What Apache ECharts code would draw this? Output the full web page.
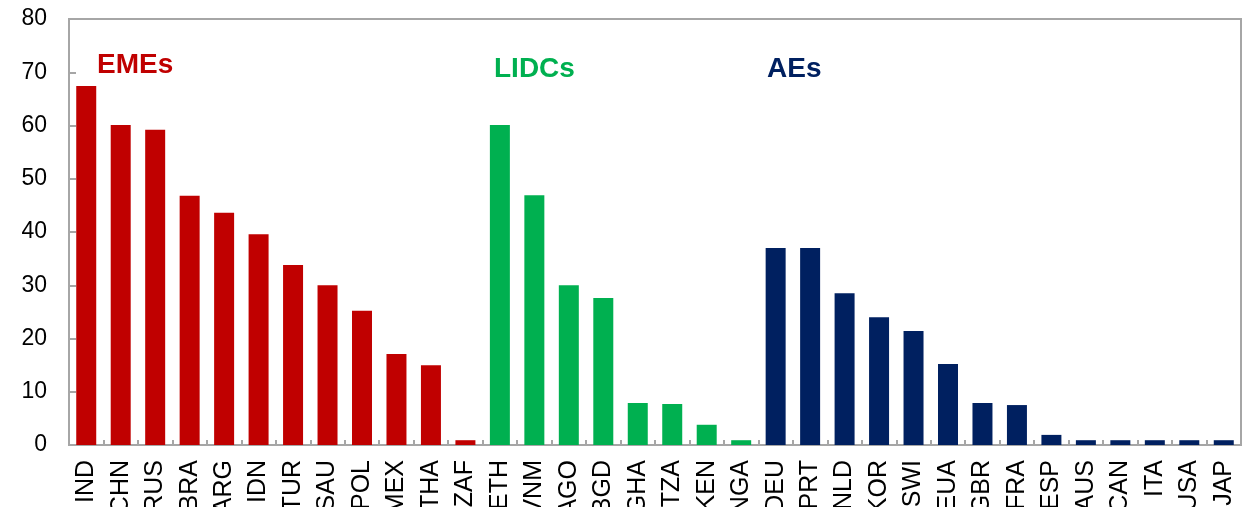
<!DOCTYPE html>
<html>
<head>
<meta charset="utf-8">
<script src="https://cdn.jsdelivr.net/npm/echarts@6/dist/echarts.min.js"></script>
<style>
html,body{margin:0;padding:0;background:#fff;}
#chart{width:1255px;height:507px;}
</style>
</head>
<body>
<div id="chart"></div>
<script>
const categories = ['IND','CHN','RUS','BRA','ARG','IDN','TUR','SAU','POL','MEX','THA','ZAF',
  'ETH','VNM','AGO','BGD','GHA','TZA','KEN','NGA',
  'DEU','PRT','NLD','KOR','SWI','EUA','GBR','FRA','ESP','AUS','CAN','ITA','USA','JAP'];
const values = [67.4,60.1,59.2,46.8,43.6,39.6,33.8,30.0,25.2,17.1,15.0,0.9,
  60.1,46.9,30.0,27.6,7.9,7.7,3.8,0.9,
  37.0,37.0,28.5,24.0,21.4,15.2,7.9,7.5,1.9,0.9,0.9,0.9,0.9,0.9];
const groups = ['EME','EME','EME','EME','EME','EME','EME','EME','EME','EME','EME','EME',
  'LIDC','LIDC','LIDC','LIDC','LIDC','LIDC','LIDC','LIDC',
  'AE','AE','AE','AE','AE','AE','AE','AE','AE','AE','AE','AE','AE','AE'];
const groupColors = {EME:'#C00000', LIDC:'#00B050', AE:'#002060'};
const groupLabels = [
  {text:'EMEs', key:'EME', left:97, top:51},
  {text:'LIDCs', key:'LIDC', left:494, top:55},
  {text:'AEs', key:'AE', left:767, top:55}
];
const yTicks = {min:0, max:80, interval:10};

const chart = echarts.init(document.getElementById('chart'), null, {renderer:'canvas'});
const axisGrey = '#a6a6a6';
const font = '"Liberation Sans", Arial, sans-serif';
chart.setOption({
  animation:false,
  grid:{left:69, right:14, top:19, bottom:62, outerBoundsMode:'none', containLabel:false,
        show:true, borderColor:axisGrey, borderWidth:2, backgroundColor:'transparent'},
  xAxis:{
    type:'category', data:categories,
    axisLine:{show:true, lineStyle:{color:axisGrey, width:2}},
    axisTick:{show:true, inside:true, length:5, lineStyle:{color:axisGrey, width:2}},
    axisLabel:{rotate:90, margin:15, color:'#000', fontFamily:font, fontSize:25, interval:0, hideOverlap:false}
  },
  yAxis:{
    type:'value', min:yTicks.min, max:yTicks.max, interval:yTicks.interval,
    splitLine:{show:false},
    axisLine:{show:true, lineStyle:{color:axisGrey, width:2}},
    axisTick:{show:true, inside:true, length:7, lineStyle:{color:axisGrey, width:2}},
    axisLabel:{margin:22, color:'#000', fontFamily:font, fontSize:23}
  },
  series:[{
    type:'bar',
    data:values.map((v,i)=>({value:v, itemStyle:{color:groupColors[groups[i]]}})),
    barWidth:'58%'
  }],
  graphic: groupLabels.map(g=>({
    type:'text', left:g.left, top:g.top,
    style:{text:g.text, fill:groupColors[g.key], font:'bold 28px '+font}
  }))
});
</script>
</body>
</html>
